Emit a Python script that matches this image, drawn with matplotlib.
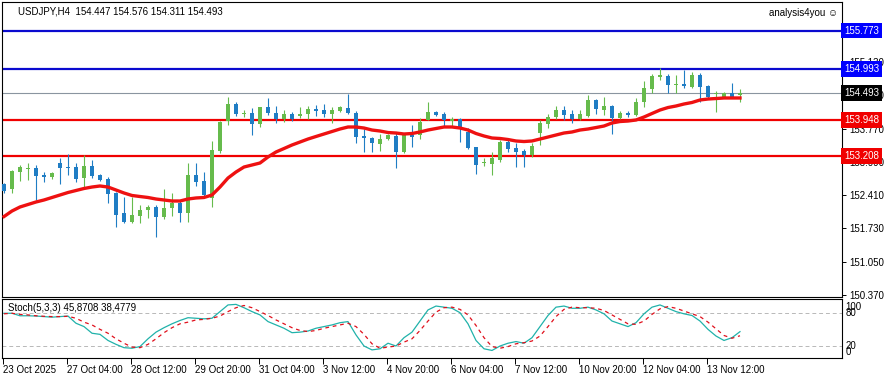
import matplotlib
matplotlib.use('Agg')
import matplotlib.pyplot as plt
import numpy as np

plt.rcParams['font.family'] = ['Liberation Sans', 'DejaVu Sans']

W, H = 888, 379

opens = [152.636, 152.533, 152.881, 152.942, 152.963, 152.820, 152.779, 153.065, 152.983, 152.983,
         152.758, 153.004, 152.820, 152.738, 152.452, 152.043, 151.859, 151.982, 152.104, 152.166,
         151.961, 152.145, 152.247, 152.043, 152.820, 152.697, 152.350, 153.310, 153.923, 154.271,
         154.066, 154.087, 153.862, 154.210, 154.087, 153.964, 154.066, 154.026, 154.066, 154.169,
         154.148, 154.066, 154.128, 154.189, 154.087, 153.617, 153.576, 153.453, 153.555, 153.617,
         153.290, 153.637, 153.637, 153.944, 154.107, 154.066, 153.923, 153.964, 153.699, 153.392,
         153.065, 153.044, 153.126, 153.494, 153.372, 153.310, 153.228, 153.678, 153.862, 154.005,
         154.148, 154.066, 153.964, 154.026, 154.353, 154.148, 154.230, 153.985, 154.087, 154.046,
         154.312, 154.577, 154.823, 154.843, 154.659, 154.680, 154.618, 154.864, 154.639, 154.475,
         154.414, 154.496, 154.447]
highs = [152.656, 152.922, 153.024, 153.065, 153.024, 152.881, 152.881, 153.167, 153.249, 153.065,
         153.228, 153.126, 152.840, 152.779, 152.472, 152.370, 152.370, 152.206, 152.206, 152.206,
         152.533, 152.452, 152.309, 153.065, 153.065, 152.881, 153.515, 153.923, 154.414, 154.312,
         154.148, 154.189, 154.210, 154.394, 154.230, 154.148, 154.107, 154.210, 154.230, 154.250,
         154.271, 154.210, 154.230, 154.475, 154.128, 153.760, 153.596, 153.658, 153.658, 153.678,
         153.678, 153.842, 153.985, 154.312, 154.128, 154.107, 154.005, 153.985, 153.780, 153.392,
         153.167, 153.290, 153.535, 153.555, 153.474, 153.351, 153.474, 153.944, 154.066, 154.230,
         154.230, 154.148, 154.148, 154.455, 154.373, 154.414, 154.250, 154.128, 154.128, 154.394,
         154.741, 154.884, 155.007, 154.884, 154.864, 154.966, 154.925, 154.905, 154.659, 154.537,
         154.516, 154.700, 154.576]
lows = [152.452, 152.452, 152.697, 152.717, 152.309, 152.677, 152.738, 152.636, 152.820, 152.677,
        152.574, 152.758, 152.697, 152.247, 151.757, 151.838, 151.838, 151.838, 151.941, 151.552,
        151.920, 151.982, 151.859, 151.859, 152.595, 152.370, 152.166, 153.269, 153.842, 154.026,
        154.005, 153.637, 153.801, 154.046, 153.883, 153.903, 153.923, 153.985, 153.964, 154.026,
        154.005, 153.883, 154.107, 154.066, 153.474, 153.290, 153.290, 153.310, 153.535, 152.963,
        153.269, 153.392, 153.555, 153.944, 154.026, 153.801, 153.821, 153.494, 153.351, 152.840,
        153.004, 152.820, 153.085, 153.290, 152.983, 152.983, 153.188, 153.433, 153.780, 153.964,
        153.944, 153.883, 153.944, 154.005, 154.066, 154.046, 153.658, 153.964, 154.005, 154.026,
        154.210, 154.496, 154.761, 154.496, 154.496, 154.598, 154.598, 154.312, 154.394, 154.107,
        154.394, 154.394, 154.311]
closes = [152.493, 152.901, 152.983, 152.963, 152.799, 152.779, 152.860, 152.963, 152.963, 152.738,
          153.004, 152.799, 152.717, 152.431, 152.002, 151.859, 152.002, 152.104, 152.166, 151.961,
          152.145, 152.247, 152.043, 152.820, 152.677, 152.411, 153.331, 153.903, 154.271, 154.066,
          154.087, 153.862, 154.210, 154.087, 153.964, 154.066, 153.964, 154.066, 154.169, 154.128,
          154.066, 154.148, 154.210, 154.087, 153.596, 153.576, 153.474, 153.555, 153.637, 153.290,
          153.637, 153.596, 153.903, 154.107, 154.046, 153.944, 153.964, 153.801, 153.372, 153.024,
          153.085, 153.167, 153.494, 153.351, 153.290, 153.228, 153.412, 153.883, 154.005, 154.148,
          154.046, 153.964, 154.066, 154.353, 154.169, 154.230, 153.985, 154.087, 154.046, 154.312,
          154.598, 154.843, 154.864, 154.659, 154.680, 154.639, 154.864, 154.618, 154.414, 154.496,
          154.496, 154.414, 154.493]

ma = [151.971, 152.084, 152.166, 152.217, 152.268, 152.309, 152.360, 152.411, 152.462, 152.503,
      152.544, 152.574, 152.595, 152.574, 152.513, 152.452, 152.401, 152.380, 152.360, 152.329,
      152.309, 152.288, 152.288, 152.329, 152.350, 152.360, 152.411, 152.574, 152.758, 152.881,
      152.983, 153.024, 153.065, 153.188, 153.290, 153.361, 153.433, 153.494, 153.555, 153.607,
      153.658, 153.709, 153.760, 153.801, 153.801, 153.780, 153.739, 153.719, 153.688, 153.678,
      153.658, 153.668, 153.699, 153.739, 153.770, 153.801, 153.801, 153.780, 153.739, 153.668,
      153.617, 153.576, 153.566, 153.545, 153.515, 153.504, 153.515, 153.555, 153.596, 153.637,
      153.678, 153.699, 153.739, 153.760, 153.790, 153.821, 153.883, 153.913, 153.923, 153.944,
      154.005, 154.077, 154.148, 154.199, 154.230, 154.271, 154.302, 154.353, 154.373, 154.383,
      154.394, 154.394, 154.394]

stoch_k = [79, 79, 74.5, 74.5, 74, 73, 72, 73, 74, 61,
           55, 43, 41, 30, 23, 17, 16, 19, 33, 45,
           53, 60, 66, 71, 70, 69, 70, 82, 94, 95,
           89, 82, 76, 64, 58, 52, 44, 45, 47, 52,
           55, 58, 62, 64, 40, 20, 13, 15, 25, 20,
           35, 45, 65, 85, 92, 90, 88, 80, 60, 30,
           15, 12, 20, 25, 28, 25, 35, 55, 75, 90,
           92, 88, 88, 90, 85, 78, 65, 60, 55, 62,
           78, 90, 94, 88, 82, 78, 75, 65, 50, 38,
           30, 35, 45.87]
stoch_d = [78, 79, 77, 76, 74.5, 73.5, 73, 73, 73.5, 70,
           63, 58, 50, 43, 33, 25, 18, 17, 23, 33,
           44, 53, 60, 63, 67, 68, 70, 74, 82, 89,
           93, 89, 82, 75, 67, 60, 53, 48, 46, 48,
           52, 55, 58, 61, 55, 41, 24, 16, 18, 20,
           27, 33, 48, 65, 81, 89, 90, 86, 76, 57,
           35, 19, 16, 19, 24, 26, 29, 38, 55, 73,
           86, 90, 89, 89, 88, 84, 76, 68, 60, 59,
           65, 77, 87, 91, 88, 83, 78, 73, 63, 51,
           39, 34, 38.48]

levels = [155.773, 154.993, 153.948, 153.208]
level_colors = ['#0A0ACF', '#0A0ACF', '#F00000', '#F00000']
tag_colors = ['#0000FF', '#0000FF', '#F00000', '#F00000']
bid = 154.493
price_ticks = [150.370, 151.050, 151.730, 152.410, 153.090, 153.770, 154.450, 155.130]
date_labels = ['23 Oct 2025', '27 Oct 04:00', '28 Oct 12:00', '29 Oct 20:00', '31 Oct 04:00',
               '3 Nov 12:00', '4 Nov 20:00', '6 Nov 04:00', '7 Nov 12:00', '10 Nov 20:00',
               '12 Nov 04:00', '13 Nov 12:00']

o = np.array(opens)
h = np.array(highs)
l = np.array(lows)
c = np.array(closes)
x = np.arange(len(c))
up = c >= o
cols = np.where(up, '#66BB4C', '#1F7DC4')

fig = plt.figure(figsize=(W / 100, H / 100), dpi=100)
ax = fig.add_axes([2 / W, 1 - 297 / H, 840 / W, 295 / H])
ax2 = fig.add_axes([2 / W, 1 - 358 / H, 840 / W, 59 / H])

for lv, lc in zip(levels, level_colors):
    ax.axhline(lv, color=lc, lw=1.6, zorder=1)
ax.axhline(bid, color='#8A95A0', lw=0.8, zorder=1)

ax.vlines(x, l, h, colors=cols, lw=0.8, zorder=2)
ax.bar(x, np.maximum(np.abs(c - o), 0.012), bottom=np.minimum(o, c), width=0.62,
       color=cols, linewidth=0, zorder=3)
ax.plot(x, ma, color='#EE1111', lw=2.4, zorder=4)

ax.set_xlim(-0.25, 104.75)
ax.set_ylim(150.326, 156.356)
ax.set_xticks([])
ax.yaxis.tick_right()
ax.set_yticks(price_ticks)
ax.set_yticklabels(['%.3f' % p for p in price_ticks])
ax.tick_params(axis='y', length=3, width=0.7, labelsize=7, pad=2)
for s in ax.spines.values():
    s.set_linewidth(0.8)

ytr = ax.get_yaxis_transform()
for lv, tc in zip(levels, tag_colors):
    ax.text(1.0025, lv, '%.3f' % lv, transform=ytr, ha='left', va='center', fontsize=7,
            color='white', zorder=10,
            bbox=dict(boxstyle='square,pad=0.3', fc=tc, ec='none'))
ax.text(1.0025, bid, '%.3f' % bid, transform=ytr, ha='left', va='center', fontsize=7,
        color='white', zorder=10, bbox=dict(boxstyle='square,pad=0.3', fc='black', ec='none'))

# stochastic panel
ax2.axhline(80, color='#B8B8B8', lw=0.7, ls=(0, (4, 3)))
ax2.axhline(20, color='#B8B8B8', lw=0.7, ls=(0, (4, 3)))
ax2.plot(x, stoch_k, color='#20B2AA', lw=0.9)
ax2.plot(x, stoch_d, color='#E0101C', lw=0.9, ls=(0, (3, 3)))
ax2.set_xlim(-0.25, 104.75)
ax2.set_ylim(-1.6, 104.7)
ax2.set_yticks([])
for s in ax2.spines.values():
    s.set_linewidth(0.8)
ytr2 = ax2.get_yaxis_transform()
for v, va in [(100, 'top'), (80, 'center'), (20, 'center'), (0, 'bottom')]:
    ax2.text(1.004, v, str(v), transform=ytr2, ha='left', va=va, fontsize=7)

ax2.set_xticks(np.arange(0, len(date_labels) * 8, 8) - 0.15)
ax2.set_xticklabels(date_labels, ha='left', fontsize=7)
ax2.tick_params(axis='x', length=4, width=0.7, pad=1)

fig.text(18 / W, 1 - 11 / H, 'USDJPY,H4  154.447 154.576 154.311 154.493', fontsize=7, va='center')
fig.text(838 / W, 1 - 12.5 / H, 'analysis4you \u263a', fontsize=7, va='center', ha='right')
fig.text(8 / W, 1 - 308 / H, 'Stoch(5,3,3) 45,8708 38,4779', fontsize=7, va='center')

fig.savefig('out.png', dpi=100, facecolor='white')
